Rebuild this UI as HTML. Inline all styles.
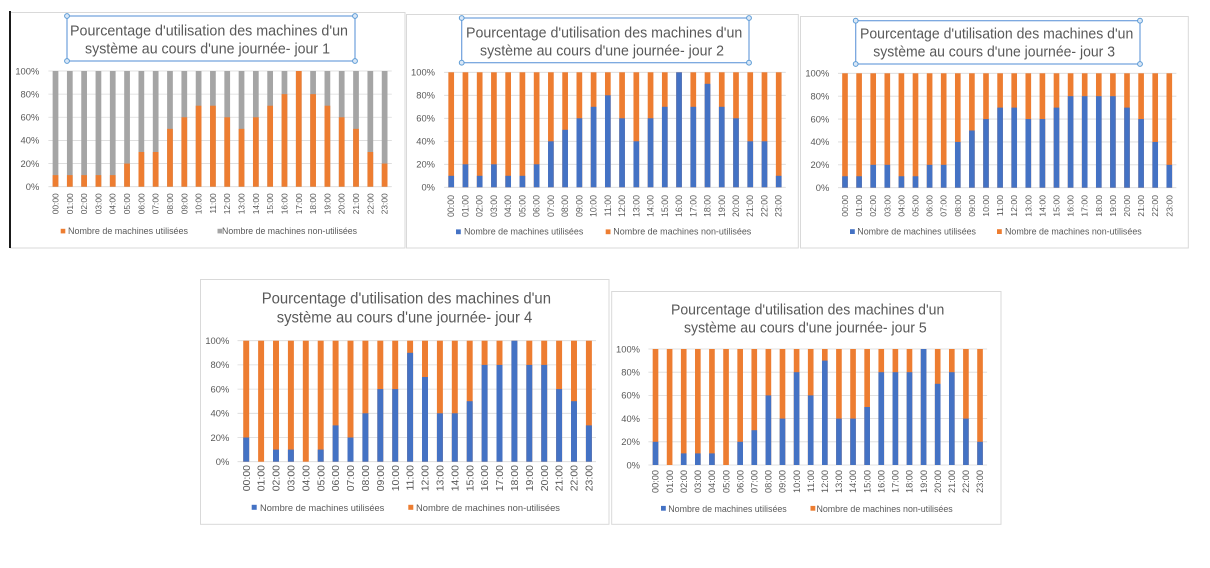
<!DOCTYPE html>
<html>
<head>
<meta charset="utf-8">
<style>
html,body{margin:0;padding:0;background:#fff;}
svg{display:block;}
text{font-family:"Liberation Sans",sans-serif;fill:#595959;}
.yl{font-size:9.4px;text-anchor:end;}
.tt{font-size:15px;}
.lg{font-size:9px;}
</style>
</head>
<body>
<svg width="1210" height="568" viewBox="0 0 1210 568" xmlns="http://www.w3.org/2000/svg">
<defs>
<g id="cols">
<rect x="-0.2" y="0" width="0.4" height="100"/><rect x="0.8" y="0" width="0.4" height="100"/><rect x="1.8" y="0" width="0.4" height="100"/><rect x="2.8" y="0" width="0.4" height="100"/><rect x="3.8" y="0" width="0.4" height="100"/><rect x="4.8" y="0" width="0.4" height="100"/><rect x="5.8" y="0" width="0.4" height="100"/><rect x="6.8" y="0" width="0.4" height="100"/><rect x="7.8" y="0" width="0.4" height="100"/><rect x="8.8" y="0" width="0.4" height="100"/><rect x="9.8" y="0" width="0.4" height="100"/><rect x="10.8" y="0" width="0.4" height="100"/><rect x="11.8" y="0" width="0.4" height="100"/><rect x="12.8" y="0" width="0.4" height="100"/><rect x="13.8" y="0" width="0.4" height="100"/><rect x="14.8" y="0" width="0.4" height="100"/><rect x="15.8" y="0" width="0.4" height="100"/><rect x="16.8" y="0" width="0.4" height="100"/><rect x="17.8" y="0" width="0.4" height="100"/><rect x="18.8" y="0" width="0.4" height="100"/><rect x="19.8" y="0" width="0.4" height="100"/><rect x="20.8" y="0" width="0.4" height="100"/><rect x="21.8" y="0" width="0.4" height="100"/><rect x="22.8" y="0" width="0.4" height="100"/>
</g>
</defs>
<rect width="1210" height="568" fill="#fff"/>

<!-- ============ CHART 1 ============ -->
<rect x="10.5" y="12.5" width="394.5" height="235.5" fill="#fff" stroke="#d9d9d9" stroke-width="1"/>
<rect x="9" y="11" width="2" height="237" fill="#1a1a1a"/>
<rect x="67" y="16" width="288" height="45" fill="none" stroke="#6fa0dc" stroke-width="1.2"/>
<g fill="#dbe8f7" stroke="#5b9bd5" stroke-width="1">
<circle cx="67" cy="16" r="2.4"/><circle cx="355" cy="16" r="2.4"/><circle cx="67" cy="61" r="2.4"/><circle cx="355" cy="61" r="2.4"/>
</g>
<text class="tt" x="70" y="35.7" textLength="278" lengthAdjust="spacingAndGlyphs">Pourcentage d'utilisation des machines d'un</text>
<text class="tt" x="85" y="53.3" textLength="245" lengthAdjust="spacingAndGlyphs">système au cours d'une journée- jour 1</text>
<g stroke="#d9d9d9" stroke-width="0.8">
<line x1="48.4" x2="391.8" y1="71" y2="71"/><line x1="48.4" x2="391.8" y1="94.14" y2="94.14"/><line x1="48.4" x2="391.8" y1="117.28" y2="117.28"/><line x1="48.4" x2="391.8" y1="140.42" y2="140.42"/><line x1="48.4" x2="391.8" y1="163.56" y2="163.56"/><line x1="48.4" x2="391.8" y1="186.7" y2="186.7"/>
</g>
<text class="yl" x="39.3" y="74.3">100%</text><text class="yl" x="39.3" y="97.4">80%</text><text class="yl" x="39.3" y="120.6">60%</text><text class="yl" x="39.3" y="143.7">40%</text><text class="yl" x="39.3" y="166.9">20%</text><text class="yl" x="39.3" y="190">0%</text>
<g transform="translate(55.5,71) scale(14.31,1.157)">
<use href="#cols" fill="#A5A5A5"/>
<g fill="#ED7D31">
<rect x="-0.2" y="90" width="0.4" height="10"/><rect x="0.8" y="90" width="0.4" height="10"/><rect x="1.8" y="90" width="0.4" height="10"/><rect x="2.8" y="90" width="0.4" height="10"/><rect x="3.8" y="90" width="0.4" height="10"/><rect x="4.8" y="80" width="0.4" height="20"/><rect x="5.8" y="70" width="0.4" height="30"/><rect x="6.8" y="70" width="0.4" height="30"/><rect x="7.8" y="50" width="0.4" height="50"/><rect x="8.8" y="40" width="0.4" height="60"/><rect x="9.8" y="30" width="0.4" height="70"/><rect x="10.8" y="30" width="0.4" height="70"/><rect x="11.8" y="40" width="0.4" height="60"/><rect x="12.8" y="50" width="0.4" height="50"/><rect x="13.8" y="40" width="0.4" height="60"/><rect x="14.8" y="30" width="0.4" height="70"/><rect x="15.8" y="20" width="0.4" height="80"/><rect x="16.8" y="0" width="0.4" height="100"/><rect x="17.8" y="20" width="0.4" height="80"/><rect x="18.8" y="30" width="0.4" height="70"/><rect x="19.8" y="40" width="0.4" height="60"/><rect x="20.8" y="50" width="0.4" height="50"/><rect x="21.8" y="70" width="0.4" height="30"/><rect x="22.8" y="80" width="0.4" height="20"/>
</g>
</g>
<g style="font-size:8.4px" text-anchor="end">
<text transform="translate(55.5,193.3) rotate(-90)" dy="3">00:00</text>
<text transform="translate(69.81,193.3) rotate(-90)" dy="3">01:00</text>
<text transform="translate(84.12,193.3) rotate(-90)" dy="3">02:00</text>
<text transform="translate(98.43,193.3) rotate(-90)" dy="3">03:00</text>
<text transform="translate(112.74,193.3) rotate(-90)" dy="3">04:00</text>
<text transform="translate(127.05,193.3) rotate(-90)" dy="3">05:00</text>
<text transform="translate(141.36,193.3) rotate(-90)" dy="3">06:00</text>
<text transform="translate(155.67,193.3) rotate(-90)" dy="3">07:00</text>
<text transform="translate(169.98,193.3) rotate(-90)" dy="3">08:00</text>
<text transform="translate(184.29,193.3) rotate(-90)" dy="3">09:00</text>
<text transform="translate(198.6,193.3) rotate(-90)" dy="3">10:00</text>
<text transform="translate(212.91,193.3) rotate(-90)" dy="3">11:00</text>
<text transform="translate(227.22,193.3) rotate(-90)" dy="3">12:00</text>
<text transform="translate(241.53,193.3) rotate(-90)" dy="3">13:00</text>
<text transform="translate(255.84,193.3) rotate(-90)" dy="3">14:00</text>
<text transform="translate(270.15,193.3) rotate(-90)" dy="3">15:00</text>
<text transform="translate(284.46,193.3) rotate(-90)" dy="3">16:00</text>
<text transform="translate(298.77,193.3) rotate(-90)" dy="3">17:00</text>
<text transform="translate(313.08,193.3) rotate(-90)" dy="3">18:00</text>
<text transform="translate(327.39,193.3) rotate(-90)" dy="3">19:00</text>
<text transform="translate(341.7,193.3) rotate(-90)" dy="3">20:00</text>
<text transform="translate(356.01,193.3) rotate(-90)" dy="3">21:00</text>
<text transform="translate(370.32,193.3) rotate(-90)" dy="3">22:00</text>
<text transform="translate(384.63,193.3) rotate(-90)" dy="3">23:00</text>
</g>
<rect x="60.7" y="228.8" width="4.6" height="4.6" fill="#ED7D31"/>
<text class="lg" x="68" y="234" textLength="120" lengthAdjust="spacingAndGlyphs">Nombre de machines utilisées</text>
<rect x="217.5" y="228.8" width="4.6" height="4.6" fill="#A5A5A5"/>
<text class="lg" x="222" y="234" textLength="135" lengthAdjust="spacingAndGlyphs">Nombre de machines non-utilisées</text>

<!-- ============ CHART 2 ============ -->
<rect x="406.5" y="14.5" width="391.8" height="233.5" fill="#fff" stroke="#d9d9d9" stroke-width="1"/>
<rect x="461.7" y="18" width="287.3" height="44.7" fill="none" stroke="#6fa0dc" stroke-width="1.2"/>
<g fill="#dbe8f7" stroke="#5b9bd5" stroke-width="1">
<circle cx="461.7" cy="18" r="2.4"/><circle cx="749" cy="18" r="2.4"/><circle cx="461.7" cy="62.7" r="2.4"/><circle cx="749" cy="62.7" r="2.4"/>
</g>
<text class="tt" x="466" y="37.3" textLength="276.3" lengthAdjust="spacingAndGlyphs">Pourcentage d'utilisation des machines d'un</text>
<text class="tt" x="480" y="55.3" textLength="244" lengthAdjust="spacingAndGlyphs">système au cours d'une journée- jour 2</text>
<g stroke="#d9d9d9" stroke-width="0.8">
<line x1="444.1" x2="785.8" y1="72.3" y2="72.3"/><line x1="444.1" x2="785.8" y1="95.3" y2="95.3"/><line x1="444.1" x2="785.8" y1="118.3" y2="118.3"/><line x1="444.1" x2="785.8" y1="141.3" y2="141.3"/><line x1="444.1" x2="785.8" y1="164.3" y2="164.3"/><line x1="444.1" x2="785.8" y1="187.3" y2="187.3"/>
</g>
<text class="yl" x="435" y="75.6">100%</text><text class="yl" x="435" y="98.6">80%</text><text class="yl" x="435" y="121.6">60%</text><text class="yl" x="435" y="144.6">40%</text><text class="yl" x="435" y="167.6">20%</text><text class="yl" x="435" y="190.6">0%</text>
<g transform="translate(451.2,72.3) scale(14.24,1.15)">
<use href="#cols" fill="#ED7D31"/>
<g fill="#4472C4">
<rect x="-0.2" y="90" width="0.4" height="10"/><rect x="0.8" y="80" width="0.4" height="20"/><rect x="1.8" y="90" width="0.4" height="10"/><rect x="2.8" y="80" width="0.4" height="20"/><rect x="3.8" y="90" width="0.4" height="10"/><rect x="4.8" y="90" width="0.4" height="10"/><rect x="5.8" y="80" width="0.4" height="20"/><rect x="6.8" y="60" width="0.4" height="40"/><rect x="7.8" y="50" width="0.4" height="50"/><rect x="8.8" y="40" width="0.4" height="60"/><rect x="9.8" y="30" width="0.4" height="70"/><rect x="10.8" y="20" width="0.4" height="80"/><rect x="11.8" y="40" width="0.4" height="60"/><rect x="12.8" y="60" width="0.4" height="40"/><rect x="13.8" y="40" width="0.4" height="60"/><rect x="14.8" y="30" width="0.4" height="70"/><rect x="15.8" y="0" width="0.4" height="100"/><rect x="16.8" y="30" width="0.4" height="70"/><rect x="17.8" y="10" width="0.4" height="90"/><rect x="18.8" y="30" width="0.4" height="70"/><rect x="19.8" y="40" width="0.4" height="60"/><rect x="20.8" y="60" width="0.4" height="40"/><rect x="21.8" y="60" width="0.4" height="40"/><rect x="22.8" y="90" width="0.4" height="10"/>
</g>
</g>
<g style="font-size:8.8px" text-anchor="end">
<text transform="translate(451.2,195) rotate(-90)" dy="3">00:00</text>
<text transform="translate(465.44,195) rotate(-90)" dy="3">01:00</text>
<text transform="translate(479.68,195) rotate(-90)" dy="3">02:00</text>
<text transform="translate(493.92,195) rotate(-90)" dy="3">03:00</text>
<text transform="translate(508.16,195) rotate(-90)" dy="3">04:00</text>
<text transform="translate(522.4,195) rotate(-90)" dy="3">05:00</text>
<text transform="translate(536.64,195) rotate(-90)" dy="3">06:00</text>
<text transform="translate(550.88,195) rotate(-90)" dy="3">07:00</text>
<text transform="translate(565.12,195) rotate(-90)" dy="3">08:00</text>
<text transform="translate(579.36,195) rotate(-90)" dy="3">09:00</text>
<text transform="translate(593.6,195) rotate(-90)" dy="3">10:00</text>
<text transform="translate(607.84,195) rotate(-90)" dy="3">11:00</text>
<text transform="translate(622.08,195) rotate(-90)" dy="3">12:00</text>
<text transform="translate(636.32,195) rotate(-90)" dy="3">13:00</text>
<text transform="translate(650.56,195) rotate(-90)" dy="3">14:00</text>
<text transform="translate(664.8,195) rotate(-90)" dy="3">15:00</text>
<text transform="translate(679.04,195) rotate(-90)" dy="3">16:00</text>
<text transform="translate(693.28,195) rotate(-90)" dy="3">17:00</text>
<text transform="translate(707.52,195) rotate(-90)" dy="3">18:00</text>
<text transform="translate(721.76,195) rotate(-90)" dy="3">19:00</text>
<text transform="translate(736,195) rotate(-90)" dy="3">20:00</text>
<text transform="translate(750.24,195) rotate(-90)" dy="3">21:00</text>
<text transform="translate(764.48,195) rotate(-90)" dy="3">22:00</text>
<text transform="translate(778.72,195) rotate(-90)" dy="3">23:00</text>
</g>
<rect x="456" y="229.4" width="4.8" height="4.8" fill="#4472C4"/>
<text class="lg" x="464" y="234.7" textLength="119.3" lengthAdjust="spacingAndGlyphs">Nombre de machines utilisées</text>
<rect x="605.7" y="229.4" width="4.8" height="4.8" fill="#ED7D31"/>
<text class="lg" x="613.3" y="234.7" textLength="138" lengthAdjust="spacingAndGlyphs">Nombre de machines non-utilisées</text>

<!-- ============ CHART 3 ============ -->
<rect x="800.5" y="16.5" width="387.8" height="231.5" fill="#fff" stroke="#d9d9d9" stroke-width="1"/>
<rect x="855.7" y="20.7" width="284.3" height="43.3" fill="none" stroke="#6fa0dc" stroke-width="1.2"/>
<g fill="#dbe8f7" stroke="#5b9bd5" stroke-width="1">
<circle cx="855.7" cy="20.7" r="2.4"/><circle cx="1140" cy="20.7" r="2.4"/><circle cx="855.7" cy="64" r="2.4"/><circle cx="1140" cy="64" r="2.4"/>
</g>
<text class="tt" x="860" y="38.5" textLength="273.3" lengthAdjust="spacingAndGlyphs">Pourcentage d'utilisation des machines d'un</text>
<text class="tt" x="873.3" y="56.7" textLength="241.7" lengthAdjust="spacingAndGlyphs">système au cours d'une journée- jour 3</text>
<g stroke="#d9d9d9" stroke-width="0.8">
<line x1="838" x2="1176.4" y1="73.3" y2="73.3"/><line x1="838" x2="1176.4" y1="96.18" y2="96.18"/><line x1="838" x2="1176.4" y1="119.06" y2="119.06"/><line x1="838" x2="1176.4" y1="141.94" y2="141.94"/><line x1="838" x2="1176.4" y1="164.82" y2="164.82"/><line x1="838" x2="1176.4" y1="187.7" y2="187.7"/>
</g>
<text class="yl" x="829.3" y="76.6">100%</text><text class="yl" x="829.3" y="99.5">80%</text><text class="yl" x="829.3" y="122.4">60%</text><text class="yl" x="829.3" y="145.2">40%</text><text class="yl" x="829.3" y="168.1">20%</text><text class="yl" x="829.3" y="191">0%</text>
<g transform="translate(845,73.3) scale(14.1,1.144)">
<use href="#cols" fill="#ED7D31"/>
<g fill="#4472C4">
<rect x="-0.2" y="90" width="0.4" height="10"/><rect x="0.8" y="90" width="0.4" height="10"/><rect x="1.8" y="80" width="0.4" height="20"/><rect x="2.8" y="80" width="0.4" height="20"/><rect x="3.8" y="90" width="0.4" height="10"/><rect x="4.8" y="90" width="0.4" height="10"/><rect x="5.8" y="80" width="0.4" height="20"/><rect x="6.8" y="80" width="0.4" height="20"/><rect x="7.8" y="60" width="0.4" height="40"/><rect x="8.8" y="50" width="0.4" height="50"/><rect x="9.8" y="40" width="0.4" height="60"/><rect x="10.8" y="30" width="0.4" height="70"/><rect x="11.8" y="30" width="0.4" height="70"/><rect x="12.8" y="40" width="0.4" height="60"/><rect x="13.8" y="40" width="0.4" height="60"/><rect x="14.8" y="30" width="0.4" height="70"/><rect x="15.8" y="20" width="0.4" height="80"/><rect x="16.8" y="20" width="0.4" height="80"/><rect x="17.8" y="20" width="0.4" height="80"/><rect x="18.8" y="20" width="0.4" height="80"/><rect x="19.8" y="30" width="0.4" height="70"/><rect x="20.8" y="40" width="0.4" height="60"/><rect x="21.8" y="60" width="0.4" height="40"/><rect x="22.8" y="80" width="0.4" height="20"/>
</g>
</g>
<g style="font-size:8.7px" text-anchor="end">
<text transform="translate(845,195) rotate(-90)" dy="3">00:00</text>
<text transform="translate(859.1,195) rotate(-90)" dy="3">01:00</text>
<text transform="translate(873.2,195) rotate(-90)" dy="3">02:00</text>
<text transform="translate(887.3,195) rotate(-90)" dy="3">03:00</text>
<text transform="translate(901.4,195) rotate(-90)" dy="3">04:00</text>
<text transform="translate(915.5,195) rotate(-90)" dy="3">05:00</text>
<text transform="translate(929.6,195) rotate(-90)" dy="3">06:00</text>
<text transform="translate(943.7,195) rotate(-90)" dy="3">07:00</text>
<text transform="translate(957.8,195) rotate(-90)" dy="3">08:00</text>
<text transform="translate(971.9,195) rotate(-90)" dy="3">09:00</text>
<text transform="translate(986,195) rotate(-90)" dy="3">10:00</text>
<text transform="translate(1000.1,195) rotate(-90)" dy="3">11:00</text>
<text transform="translate(1014.2,195) rotate(-90)" dy="3">12:00</text>
<text transform="translate(1028.3,195) rotate(-90)" dy="3">13:00</text>
<text transform="translate(1042.4,195) rotate(-90)" dy="3">14:00</text>
<text transform="translate(1056.5,195) rotate(-90)" dy="3">15:00</text>
<text transform="translate(1070.6,195) rotate(-90)" dy="3">16:00</text>
<text transform="translate(1084.7,195) rotate(-90)" dy="3">17:00</text>
<text transform="translate(1098.8,195) rotate(-90)" dy="3">18:00</text>
<text transform="translate(1112.9,195) rotate(-90)" dy="3">19:00</text>
<text transform="translate(1127,195) rotate(-90)" dy="3">20:00</text>
<text transform="translate(1141.1,195) rotate(-90)" dy="3">21:00</text>
<text transform="translate(1155.2,195) rotate(-90)" dy="3">22:00</text>
<text transform="translate(1169.3,195) rotate(-90)" dy="3">23:00</text>
</g>
<rect x="850" y="229.2" width="4.8" height="4.8" fill="#4472C4"/>
<text class="lg" x="857.3" y="234.5" textLength="118.7" lengthAdjust="spacingAndGlyphs">Nombre de machines utilisées</text>
<rect x="997" y="229.2" width="4.8" height="4.8" fill="#ED7D31"/>
<text class="lg" x="1005" y="234.5" textLength="136.7" lengthAdjust="spacingAndGlyphs">Nombre de machines non-utilisées</text>

<!-- ============ CHART 4 ============ -->
<rect x="200.5" y="279.5" width="408.5" height="244.8" fill="#fff" stroke="#d9d9d9" stroke-width="1"/>
<text class="tt" style="font-size:16px" x="261.7" y="303.3" textLength="289.3" lengthAdjust="spacingAndGlyphs">Pourcentage d'utilisation des machines d'un</text>
<text class="tt" style="font-size:16px" x="276.7" y="322.7" textLength="255.6" lengthAdjust="spacingAndGlyphs">système au cours d'une journée- jour 4</text>
<g stroke="#d9d9d9" stroke-width="0.8">
<line x1="237.5" x2="596" y1="340.7" y2="340.7"/><line x1="237.5" x2="596" y1="364.9" y2="364.9"/><line x1="237.5" x2="596" y1="389.1" y2="389.1"/><line x1="237.5" x2="596" y1="413.3" y2="413.3"/><line x1="237.5" x2="596" y1="437.5" y2="437.5"/><line x1="237.5" x2="596" y1="461.7" y2="461.7"/>
</g>
<text class="yl" x="229.3" y="344">100%</text><text class="yl" x="229.3" y="368.2">80%</text><text class="yl" x="229.3" y="392.4">60%</text><text class="yl" x="229.3" y="416.6">40%</text><text class="yl" x="229.3" y="440.8">20%</text><text class="yl" x="229.3" y="465">0%</text>
<g transform="translate(246.2,340.7) scale(14.9,1.21)">
<use href="#cols" fill="#ED7D31"/>
<g fill="#4472C4">
<rect x="-0.2" y="80" width="0.4" height="20"/><rect x="1.8" y="90" width="0.4" height="10"/><rect x="2.8" y="90" width="0.4" height="10"/><rect x="4.8" y="90" width="0.4" height="10"/><rect x="5.8" y="70" width="0.4" height="30"/><rect x="6.8" y="80" width="0.4" height="20"/><rect x="7.8" y="60" width="0.4" height="40"/><rect x="8.8" y="40" width="0.4" height="60"/><rect x="9.8" y="40" width="0.4" height="60"/><rect x="10.8" y="10" width="0.4" height="90"/><rect x="11.8" y="30" width="0.4" height="70"/><rect x="12.8" y="60" width="0.4" height="40"/><rect x="13.8" y="60" width="0.4" height="40"/><rect x="14.8" y="50" width="0.4" height="50"/><rect x="15.8" y="20" width="0.4" height="80"/><rect x="16.8" y="20" width="0.4" height="80"/><rect x="17.8" y="0" width="0.4" height="100"/><rect x="18.8" y="20" width="0.4" height="80"/><rect x="19.8" y="20" width="0.4" height="80"/><rect x="20.8" y="40" width="0.4" height="60"/><rect x="21.8" y="50" width="0.4" height="50"/><rect x="22.8" y="70" width="0.4" height="30"/>
</g>
</g>
<g style="font-size:10.5px" text-anchor="end">
<text transform="translate(246.2,465) rotate(-90)" dy="3.6">00:00</text>
<text transform="translate(261.1,465) rotate(-90)" dy="3.6">01:00</text>
<text transform="translate(276,465) rotate(-90)" dy="3.6">02:00</text>
<text transform="translate(290.9,465) rotate(-90)" dy="3.6">03:00</text>
<text transform="translate(305.8,465) rotate(-90)" dy="3.6">04:00</text>
<text transform="translate(320.7,465) rotate(-90)" dy="3.6">05:00</text>
<text transform="translate(335.6,465) rotate(-90)" dy="3.6">06:00</text>
<text transform="translate(350.5,465) rotate(-90)" dy="3.6">07:00</text>
<text transform="translate(365.4,465) rotate(-90)" dy="3.6">08:00</text>
<text transform="translate(380.3,465) rotate(-90)" dy="3.6">09:00</text>
<text transform="translate(395.2,465) rotate(-90)" dy="3.6">10:00</text>
<text transform="translate(410.1,465) rotate(-90)" dy="3.6">11:00</text>
<text transform="translate(425,465) rotate(-90)" dy="3.6">12:00</text>
<text transform="translate(439.9,465) rotate(-90)" dy="3.6">13:00</text>
<text transform="translate(454.8,465) rotate(-90)" dy="3.6">14:00</text>
<text transform="translate(469.7,465) rotate(-90)" dy="3.6">15:00</text>
<text transform="translate(484.6,465) rotate(-90)" dy="3.6">16:00</text>
<text transform="translate(499.5,465) rotate(-90)" dy="3.6">17:00</text>
<text transform="translate(514.4,465) rotate(-90)" dy="3.6">18:00</text>
<text transform="translate(529.3,465) rotate(-90)" dy="3.6">19:00</text>
<text transform="translate(544.2,465) rotate(-90)" dy="3.6">20:00</text>
<text transform="translate(559.1,465) rotate(-90)" dy="3.6">21:00</text>
<text transform="translate(574,465) rotate(-90)" dy="3.6">22:00</text>
<text transform="translate(588.9,465) rotate(-90)" dy="3.6">23:00</text>
</g>
<rect x="251.7" y="504.8" width="5" height="5" fill="#4472C4"/>
<text class="lg" style="font-size:9.5px" x="260" y="511" textLength="124.3" lengthAdjust="spacingAndGlyphs">Nombre de machines utilisées</text>
<rect x="408.3" y="504.8" width="5" height="5" fill="#ED7D31"/>
<text class="lg" style="font-size:9.5px" x="416" y="511" textLength="144" lengthAdjust="spacingAndGlyphs">Nombre de machines non-utilisées</text>

<!-- ============ CHART 5 ============ -->
<rect x="611.7" y="291.5" width="389.3" height="232.8" fill="#fff" stroke="#d9d9d9" stroke-width="1"/>
<text class="tt" x="671" y="314.3" textLength="273.3" lengthAdjust="spacingAndGlyphs">Pourcentage d'utilisation des machines d'un</text>
<text class="tt" x="684" y="332.7" textLength="242.7" lengthAdjust="spacingAndGlyphs">système au cours d'une journée- jour 5</text>
<g stroke="#d9d9d9" stroke-width="0.8">
<line x1="648.4" x2="987.1" y1="349" y2="349"/><line x1="648.4" x2="987.1" y1="372.2" y2="372.2"/><line x1="648.4" x2="987.1" y1="395.4" y2="395.4"/><line x1="648.4" x2="987.1" y1="418.6" y2="418.6"/><line x1="648.4" x2="987.1" y1="441.8" y2="441.8"/><line x1="648.4" x2="987.1" y1="465" y2="465"/>
</g>
<text class="yl" x="640" y="352.3">100%</text><text class="yl" x="640" y="375.5">80%</text><text class="yl" x="640" y="398.7">60%</text><text class="yl" x="640" y="421.9">40%</text><text class="yl" x="640" y="445.1">20%</text><text class="yl" x="640" y="468.3">0%</text>
<g transform="translate(655.5,349) scale(14.11,1.16)">
<use href="#cols" fill="#ED7D31"/>
<g fill="#4472C4">
<rect x="-0.2" y="80" width="0.4" height="20"/><rect x="1.8" y="90" width="0.4" height="10"/><rect x="2.8" y="90" width="0.4" height="10"/><rect x="3.8" y="90" width="0.4" height="10"/><rect x="5.8" y="80" width="0.4" height="20"/><rect x="6.8" y="70" width="0.4" height="30"/><rect x="7.8" y="40" width="0.4" height="60"/><rect x="8.8" y="60" width="0.4" height="40"/><rect x="9.8" y="20" width="0.4" height="80"/><rect x="10.8" y="40" width="0.4" height="60"/><rect x="11.8" y="10" width="0.4" height="90"/><rect x="12.8" y="60" width="0.4" height="40"/><rect x="13.8" y="60" width="0.4" height="40"/><rect x="14.8" y="50" width="0.4" height="50"/><rect x="15.8" y="20" width="0.4" height="80"/><rect x="16.8" y="20" width="0.4" height="80"/><rect x="17.8" y="20" width="0.4" height="80"/><rect x="18.8" y="0" width="0.4" height="100"/><rect x="19.8" y="30" width="0.4" height="70"/><rect x="20.8" y="20" width="0.4" height="80"/><rect x="21.8" y="60" width="0.4" height="40"/><rect x="22.8" y="80" width="0.4" height="20"/>
</g>
</g>
<g style="font-size:9.2px" text-anchor="end">
<text transform="translate(655.5,470) rotate(-90)" dy="3.2">00:00</text>
<text transform="translate(669.61,470) rotate(-90)" dy="3.2">01:00</text>
<text transform="translate(683.72,470) rotate(-90)" dy="3.2">02:00</text>
<text transform="translate(697.83,470) rotate(-90)" dy="3.2">03:00</text>
<text transform="translate(711.94,470) rotate(-90)" dy="3.2">04:00</text>
<text transform="translate(726.05,470) rotate(-90)" dy="3.2">05:00</text>
<text transform="translate(740.16,470) rotate(-90)" dy="3.2">06:00</text>
<text transform="translate(754.27,470) rotate(-90)" dy="3.2">07:00</text>
<text transform="translate(768.38,470) rotate(-90)" dy="3.2">08:00</text>
<text transform="translate(782.49,470) rotate(-90)" dy="3.2">09:00</text>
<text transform="translate(796.6,470) rotate(-90)" dy="3.2">10:00</text>
<text transform="translate(810.71,470) rotate(-90)" dy="3.2">11:00</text>
<text transform="translate(824.82,470) rotate(-90)" dy="3.2">12:00</text>
<text transform="translate(838.93,470) rotate(-90)" dy="3.2">13:00</text>
<text transform="translate(853.04,470) rotate(-90)" dy="3.2">14:00</text>
<text transform="translate(867.15,470) rotate(-90)" dy="3.2">15:00</text>
<text transform="translate(881.26,470) rotate(-90)" dy="3.2">16:00</text>
<text transform="translate(895.37,470) rotate(-90)" dy="3.2">17:00</text>
<text transform="translate(909.48,470) rotate(-90)" dy="3.2">18:00</text>
<text transform="translate(923.59,470) rotate(-90)" dy="3.2">19:00</text>
<text transform="translate(937.7,470) rotate(-90)" dy="3.2">20:00</text>
<text transform="translate(951.81,470) rotate(-90)" dy="3.2">21:00</text>
<text transform="translate(965.92,470) rotate(-90)" dy="3.2">22:00</text>
<text transform="translate(980.03,470) rotate(-90)" dy="3.2">23:00</text>
</g>
<rect x="661" y="505.9" width="4.8" height="4.8" fill="#4472C4"/>
<text class="lg" x="668.3" y="511.8" textLength="118.4" lengthAdjust="spacingAndGlyphs">Nombre de machines utilisées</text>
<rect x="810.5" y="505.9" width="4.8" height="4.8" fill="#ED7D31"/>
<text class="lg" x="816.5" y="511.8" textLength="136.2" lengthAdjust="spacingAndGlyphs">Nombre de machines non-utilisées</text>
</svg>
</body>
</html>
